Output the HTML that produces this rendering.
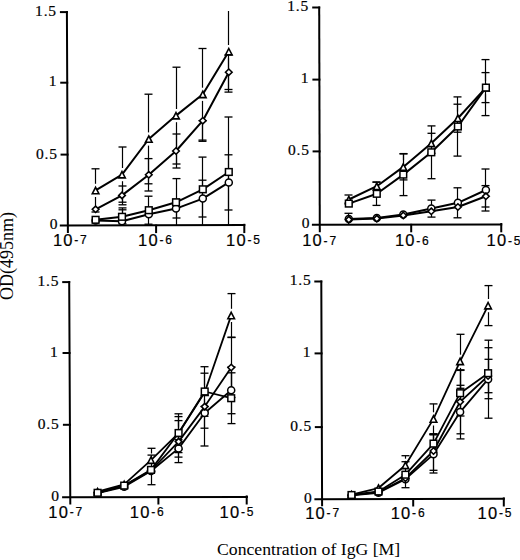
<!DOCTYPE html>
<html><head><meta charset="utf-8"><style>
html,body{margin:0;padding:0;background:#fff;}
body{width:520px;height:560px;overflow:hidden;font-family:"Liberation Sans",sans-serif;}
svg{display:block;}
</style></head><body>
<svg width="520" height="560" viewBox="0 0 520 560">
<g stroke="#000" fill="none" stroke-linecap="square"><line x1="66.90" y1="12.10" x2="67.90" y2="232.00" stroke-width="2.0"/><line x1="60.80" y1="225.60" x2="244.30" y2="225.00" stroke-width="2.0"/><line x1="60.90" y1="12.10" x2="66.90" y2="12.10" stroke-width="2.0"/><line x1="61.22" y1="82.70" x2="67.22" y2="82.70" stroke-width="2.0"/><line x1="61.55" y1="154.60" x2="67.55" y2="154.60" stroke-width="2.0"/><line x1="156.10" y1="225.60" x2="156.10" y2="232.10" stroke-width="2.0"/><line x1="244.30" y1="224.80" x2="244.30" y2="232.10" stroke-width="2.0"/></g>
<g font-family='"Liberation Serif", serif' font-size="15.5" fill="#000" stroke="#000" stroke-width="0.2"><text x="56.90" y="15.80" text-anchor="end" letter-spacing="0.8">1.5</text><text x="56.40" y="86.40" text-anchor="end" letter-spacing="0">1</text><text x="57.70" y="159.10" text-anchor="end" letter-spacing="0.8">0.5</text><text x="57.50" y="229.10" text-anchor="end" letter-spacing="0">0</text></g>
<g font-family='"Liberation Sans", sans-serif' fill="#000" stroke="#000" stroke-width="0.2"><text x="52.90" y="245.50" font-size="16.5" letter-spacing="1.2">10</text><text x="74.30" y="243.90" font-size="12" letter-spacing="1.8">-7</text><text x="138.10" y="245.50" font-size="16.5" letter-spacing="1.2">10</text><text x="159.50" y="243.90" font-size="12" letter-spacing="1.8">-6</text><text x="226.00" y="245.50" font-size="16.5" letter-spacing="1.2">10</text><text x="247.40" y="243.90" font-size="12" letter-spacing="1.8">-5</text></g>
<g stroke="#000" fill="none"><line x1="95.50" y1="168.80" x2="95.50" y2="183.80" stroke-width="1.2"/><line x1="95.50" y1="197.00" x2="95.50" y2="212.00" stroke-width="1.2"/><line x1="91.50" y1="168.80" x2="99.50" y2="168.80" stroke-width="1.32"/><line x1="91.50" y1="212.00" x2="99.50" y2="212.00" stroke-width="1.32"/><line x1="122.50" y1="147.00" x2="122.50" y2="168.00" stroke-width="1.2"/><line x1="122.50" y1="181.20" x2="122.50" y2="202.20" stroke-width="1.2"/><line x1="118.50" y1="147.00" x2="126.50" y2="147.00" stroke-width="1.32"/><line x1="118.50" y1="202.20" x2="126.50" y2="202.20" stroke-width="1.32"/><line x1="148.50" y1="94.20" x2="148.50" y2="132.40" stroke-width="1.2"/><line x1="148.50" y1="145.60" x2="148.50" y2="183.80" stroke-width="1.2"/><line x1="144.50" y1="94.20" x2="152.50" y2="94.20" stroke-width="1.32"/><line x1="144.50" y1="183.80" x2="152.50" y2="183.80" stroke-width="1.32"/><line x1="176.50" y1="67.20" x2="176.50" y2="109.00" stroke-width="1.2"/><line x1="176.50" y1="122.20" x2="176.50" y2="164.00" stroke-width="1.2"/><line x1="172.50" y1="67.20" x2="180.50" y2="67.20" stroke-width="1.32"/><line x1="172.50" y1="164.00" x2="180.50" y2="164.00" stroke-width="1.32"/><line x1="202.50" y1="48.50" x2="202.50" y2="87.70" stroke-width="1.2"/><line x1="202.50" y1="100.90" x2="202.50" y2="140.10" stroke-width="1.2"/><line x1="198.50" y1="48.50" x2="206.50" y2="48.50" stroke-width="1.32"/><line x1="198.50" y1="140.10" x2="206.50" y2="140.10" stroke-width="1.32"/><line x1="228.50" y1="11.00" x2="228.50" y2="45.00" stroke-width="1.2"/><line x1="228.50" y1="58.20" x2="228.50" y2="92.10" stroke-width="1.2"/><line x1="224.50" y1="92.10" x2="232.50" y2="92.10" stroke-width="1.32"/><line x1="122.50" y1="186.00" x2="122.50" y2="204.80" stroke-width="1.2"/><line x1="118.50" y1="186.00" x2="126.50" y2="186.00" stroke-width="1.32"/><line x1="118.50" y1="204.80" x2="126.50" y2="204.80" stroke-width="1.32"/><line x1="148.50" y1="158.60" x2="148.50" y2="191.00" stroke-width="1.2"/><line x1="144.50" y1="158.60" x2="152.50" y2="158.60" stroke-width="1.32"/><line x1="144.50" y1="191.00" x2="152.50" y2="191.00" stroke-width="1.32"/><line x1="176.50" y1="134.00" x2="176.50" y2="168.00" stroke-width="1.2"/><line x1="172.50" y1="134.00" x2="180.50" y2="134.00" stroke-width="1.32"/><line x1="172.50" y1="168.00" x2="180.50" y2="168.00" stroke-width="1.32"/><line x1="202.50" y1="120.60" x2="202.50" y2="141.30" stroke-width="1.2"/><line x1="198.50" y1="120.60" x2="206.50" y2="120.60" stroke-width="1.32"/><line x1="198.50" y1="141.30" x2="206.50" y2="141.30" stroke-width="1.32"/><line x1="228.50" y1="54.90" x2="228.50" y2="89.50" stroke-width="1.2"/><line x1="224.50" y1="54.90" x2="232.50" y2="54.90" stroke-width="1.32"/><line x1="224.50" y1="89.50" x2="232.50" y2="89.50" stroke-width="1.32"/><line x1="122.50" y1="209.80" x2="122.50" y2="223.80" stroke-width="1.2"/><line x1="118.50" y1="209.80" x2="126.50" y2="209.80" stroke-width="1.32"/><line x1="118.50" y1="223.80" x2="126.50" y2="223.80" stroke-width="1.32"/><line x1="148.50" y1="196.20" x2="148.50" y2="224.20" stroke-width="1.2"/><line x1="144.50" y1="196.20" x2="152.50" y2="196.20" stroke-width="1.32"/><line x1="144.50" y1="224.20" x2="152.50" y2="224.20" stroke-width="1.32"/><line x1="176.50" y1="178.60" x2="176.50" y2="225.40" stroke-width="1.2"/><line x1="172.50" y1="178.60" x2="180.50" y2="178.60" stroke-width="1.32"/><line x1="202.50" y1="157.10" x2="202.50" y2="225.40" stroke-width="1.2"/><line x1="198.50" y1="157.10" x2="206.50" y2="157.10" stroke-width="1.32"/><line x1="228.50" y1="117.00" x2="228.50" y2="225.40" stroke-width="1.2"/><line x1="224.50" y1="117.00" x2="232.50" y2="117.00" stroke-width="1.32"/><line x1="122.50" y1="207.90" x2="122.50" y2="225.40" stroke-width="1.2"/><line x1="118.50" y1="207.90" x2="126.50" y2="207.90" stroke-width="1.32"/><line x1="176.50" y1="199.20" x2="176.50" y2="218.00" stroke-width="1.2"/><line x1="172.50" y1="199.20" x2="180.50" y2="199.20" stroke-width="1.32"/><line x1="172.50" y1="218.00" x2="180.50" y2="218.00" stroke-width="1.32"/><line x1="202.50" y1="180.20" x2="202.50" y2="217.00" stroke-width="1.2"/><line x1="198.50" y1="180.20" x2="206.50" y2="180.20" stroke-width="1.32"/><line x1="198.50" y1="217.00" x2="206.50" y2="217.00" stroke-width="1.32"/><line x1="228.50" y1="154.80" x2="228.50" y2="210.00" stroke-width="1.2"/><line x1="224.50" y1="154.80" x2="232.50" y2="154.80" stroke-width="1.32"/><line x1="224.50" y1="210.00" x2="232.50" y2="210.00" stroke-width="1.32"/></g>
<g stroke="#000" fill="none" stroke-linejoin="round"><polyline points="95.60,190.40 122.00,174.60 148.80,139.00 176.00,115.60 202.80,94.30 228.80,51.60" stroke-width="2.0"/><polyline points="95.60,209.30 122.00,195.40 148.80,174.80 176.00,151.00 202.80,120.70 228.80,72.20" stroke-width="2.0"/><polyline points="95.60,219.80 122.00,216.80 148.80,210.20 176.00,202.30 202.80,189.30 228.80,172.00" stroke-width="2.0"/><polyline points="95.60,220.60 122.00,221.20 148.80,214.20 176.00,208.60 202.80,198.60 228.80,182.40" stroke-width="2.0"/></g>
<g stroke="#000" fill="#fff"><circle cx="95.60" cy="220.60" r="3.52" stroke-width="1.5"/><circle cx="122.00" cy="221.20" r="3.52" stroke-width="1.5"/><circle cx="148.80" cy="214.20" r="3.52" stroke-width="1.5"/><circle cx="176.00" cy="208.60" r="3.52" stroke-width="1.5"/><circle cx="202.80" cy="198.60" r="3.52" stroke-width="1.5"/><circle cx="228.80" cy="182.40" r="3.52" stroke-width="1.5"/><path d="M95.60 206.10L98.90 209.30L95.60 212.50L92.30 209.30Z" stroke-width="1.6"/><path d="M122.00 192.20L125.30 195.40L122.00 198.60L118.70 195.40Z" stroke-width="1.6"/><path d="M148.80 171.60L152.10 174.80L148.80 178.00L145.50 174.80Z" stroke-width="1.6"/><path d="M176.00 147.80L179.30 151.00L176.00 154.20L172.70 151.00Z" stroke-width="1.6"/><path d="M202.80 117.50L206.10 120.70L202.80 123.90L199.50 120.70Z" stroke-width="1.6"/><path d="M228.80 69.00L232.10 72.20L228.80 75.40L225.50 72.20Z" stroke-width="1.6"/><path d="M95.60 187.30L98.90 193.70L92.30 193.70Z" stroke-width="1.6" stroke-linejoin="miter"/><path d="M122.00 171.50L125.30 177.90L118.70 177.90Z" stroke-width="1.6" stroke-linejoin="miter"/><path d="M148.80 135.90L152.10 142.30L145.50 142.30Z" stroke-width="1.6" stroke-linejoin="miter"/><path d="M176.00 112.50L179.30 118.90L172.70 118.90Z" stroke-width="1.6" stroke-linejoin="miter"/><path d="M202.80 91.20L206.10 97.60L199.50 97.60Z" stroke-width="1.6" stroke-linejoin="miter"/><path d="M228.80 48.50L232.10 54.90L225.50 54.90Z" stroke-width="1.6" stroke-linejoin="miter"/><rect x="92.25" y="216.45" width="6.70" height="6.70" stroke-width="1.5"/><rect x="118.65" y="213.45" width="6.70" height="6.70" stroke-width="1.5"/><rect x="145.45" y="206.85" width="6.70" height="6.70" stroke-width="1.5"/><rect x="172.65" y="198.95" width="6.70" height="6.70" stroke-width="1.5"/><rect x="199.45" y="185.95" width="6.70" height="6.70" stroke-width="1.5"/><rect x="225.45" y="168.65" width="6.70" height="6.70" stroke-width="1.5"/></g>
<g stroke="#000" fill="none" stroke-linecap="square"><line x1="319.20" y1="7.50" x2="319.80" y2="231.20" stroke-width="2.0"/><line x1="312.90" y1="224.80" x2="501.25" y2="224.50" stroke-width="2.0"/><line x1="313.20" y1="7.50" x2="319.20" y2="7.50" stroke-width="2.0"/><line x1="313.39" y1="79.60" x2="319.39" y2="79.60" stroke-width="2.0"/><line x1="313.59" y1="151.40" x2="319.59" y2="151.40" stroke-width="2.0"/><line x1="411.20" y1="224.80" x2="411.20" y2="231.30" stroke-width="2.0"/><line x1="501.25" y1="224.00" x2="501.25" y2="231.30" stroke-width="2.0"/></g>
<g font-family='"Liberation Serif", serif' font-size="15.5" fill="#000" stroke="#000" stroke-width="0.2"><text x="309.00" y="11.20" text-anchor="end" letter-spacing="0.8">1.5</text><text x="308.50" y="83.30" text-anchor="end" letter-spacing="0">1</text><text x="309.80" y="155.10" text-anchor="end" letter-spacing="0.8">0.5</text><text x="309.60" y="228.40" text-anchor="end" letter-spacing="0">0</text></g>
<g font-family='"Liberation Sans", sans-serif' fill="#000" stroke="#000" stroke-width="0.2"><text x="302.20" y="246.20" font-size="16.5" letter-spacing="1.2">10</text><text x="323.60" y="244.60" font-size="12" letter-spacing="1.8">-7</text><text x="394.90" y="246.20" font-size="16.5" letter-spacing="1.2">10</text><text x="416.30" y="244.60" font-size="12" letter-spacing="1.8">-6</text><text x="486.50" y="246.20" font-size="16.5" letter-spacing="1.2">10</text><text x="507.90" y="244.60" font-size="12" letter-spacing="1.8">-5</text></g>
<g stroke="#000" fill="none"><line x1="344.50" y1="195.00" x2="352.50" y2="195.00" stroke-width="1.32"/><line x1="344.50" y1="204.00" x2="352.50" y2="204.00" stroke-width="1.32"/><line x1="372.50" y1="182.00" x2="380.50" y2="182.00" stroke-width="1.32"/><line x1="372.50" y1="190.40" x2="380.50" y2="190.40" stroke-width="1.32"/><line x1="403.50" y1="153.90" x2="403.50" y2="160.30" stroke-width="1.2"/><line x1="403.50" y1="173.50" x2="403.50" y2="179.90" stroke-width="1.2"/><line x1="399.50" y1="153.90" x2="407.50" y2="153.90" stroke-width="1.32"/><line x1="399.50" y1="179.90" x2="407.50" y2="179.90" stroke-width="1.32"/><line x1="431.50" y1="133.30" x2="431.50" y2="136.70" stroke-width="1.2"/><line x1="431.50" y1="149.90" x2="431.50" y2="153.30" stroke-width="1.2"/><line x1="427.50" y1="133.30" x2="435.50" y2="133.30" stroke-width="1.32"/><line x1="427.50" y1="153.30" x2="435.50" y2="153.30" stroke-width="1.32"/><line x1="457.50" y1="104.20" x2="457.50" y2="111.60" stroke-width="1.2"/><line x1="457.50" y1="124.80" x2="457.50" y2="132.20" stroke-width="1.2"/><line x1="453.50" y1="104.20" x2="461.50" y2="104.20" stroke-width="1.32"/><line x1="453.50" y1="132.20" x2="461.50" y2="132.20" stroke-width="1.32"/><line x1="485.50" y1="72.60" x2="485.50" y2="81.00" stroke-width="1.2"/><line x1="485.50" y1="94.20" x2="485.50" y2="102.60" stroke-width="1.2"/><line x1="481.50" y1="72.60" x2="489.50" y2="72.60" stroke-width="1.32"/><line x1="481.50" y1="102.60" x2="489.50" y2="102.60" stroke-width="1.32"/><line x1="376.50" y1="182.20" x2="376.50" y2="205.40" stroke-width="1.2"/><line x1="372.50" y1="182.20" x2="380.50" y2="182.20" stroke-width="1.32"/><line x1="372.50" y1="205.40" x2="380.50" y2="205.40" stroke-width="1.32"/><line x1="403.50" y1="153.60" x2="403.50" y2="195.60" stroke-width="1.2"/><line x1="399.50" y1="153.60" x2="407.50" y2="153.60" stroke-width="1.32"/><line x1="399.50" y1="195.60" x2="407.50" y2="195.60" stroke-width="1.32"/><line x1="431.50" y1="125.90" x2="431.50" y2="178.70" stroke-width="1.2"/><line x1="427.50" y1="125.90" x2="435.50" y2="125.90" stroke-width="1.32"/><line x1="427.50" y1="178.70" x2="435.50" y2="178.70" stroke-width="1.32"/><line x1="457.50" y1="96.90" x2="457.50" y2="156.10" stroke-width="1.2"/><line x1="453.50" y1="96.90" x2="461.50" y2="96.90" stroke-width="1.32"/><line x1="453.50" y1="156.10" x2="461.50" y2="156.10" stroke-width="1.32"/><line x1="485.50" y1="59.60" x2="485.50" y2="115.60" stroke-width="1.2"/><line x1="481.50" y1="59.60" x2="489.50" y2="59.60" stroke-width="1.32"/><line x1="481.50" y1="115.60" x2="489.50" y2="115.60" stroke-width="1.32"/><line x1="348.50" y1="213.30" x2="348.50" y2="224.60" stroke-width="1.2"/><line x1="344.50" y1="213.30" x2="352.50" y2="213.30" stroke-width="1.32"/><line x1="431.50" y1="200.10" x2="431.50" y2="217.10" stroke-width="1.2"/><line x1="427.50" y1="200.10" x2="435.50" y2="200.10" stroke-width="1.32"/><line x1="427.50" y1="217.10" x2="435.50" y2="217.10" stroke-width="1.32"/><line x1="457.50" y1="187.80" x2="457.50" y2="217.80" stroke-width="1.2"/><line x1="453.50" y1="187.80" x2="461.50" y2="187.80" stroke-width="1.32"/><line x1="453.50" y1="217.80" x2="461.50" y2="217.80" stroke-width="1.32"/><line x1="485.50" y1="169.00" x2="485.50" y2="211.00" stroke-width="1.2"/><line x1="481.50" y1="169.00" x2="489.50" y2="169.00" stroke-width="1.32"/><line x1="481.50" y1="211.00" x2="489.50" y2="211.00" stroke-width="1.32"/><line x1="485.50" y1="185.60" x2="485.50" y2="207.00" stroke-width="1.2"/><line x1="481.50" y1="185.60" x2="489.50" y2="185.60" stroke-width="1.32"/><line x1="481.50" y1="207.00" x2="489.50" y2="207.00" stroke-width="1.32"/></g>
<g stroke="#000" fill="none" stroke-linejoin="round"><polyline points="348.80,199.50 376.80,186.20 403.30,166.90 431.30,143.30 457.90,118.20 485.90,87.60" stroke-width="2.0"/><polyline points="348.80,203.60 376.80,193.80 403.30,174.60 431.30,152.30 457.90,126.50 485.90,87.60" stroke-width="2.0"/><polyline points="348.80,219.00 376.80,217.90 403.30,214.60 431.30,208.60 457.90,202.80 485.90,190.00" stroke-width="2.0"/><polyline points="348.80,219.60 376.80,218.60 403.30,215.40 431.30,211.30 457.90,207.00 485.90,196.30" stroke-width="2.0"/></g>
<g stroke="#000" fill="#fff"><circle cx="348.80" cy="219.00" r="3.52" stroke-width="1.5"/><circle cx="376.80" cy="217.90" r="3.52" stroke-width="1.5"/><circle cx="403.30" cy="214.60" r="3.52" stroke-width="1.5"/><circle cx="431.30" cy="208.60" r="3.52" stroke-width="1.5"/><circle cx="457.90" cy="202.80" r="3.52" stroke-width="1.5"/><circle cx="485.90" cy="190.00" r="3.52" stroke-width="1.5"/><path d="M348.80 216.40L352.10 219.60L348.80 222.80L345.50 219.60Z" stroke-width="1.6"/><path d="M376.80 215.40L380.10 218.60L376.80 221.80L373.50 218.60Z" stroke-width="1.6"/><path d="M403.30 212.20L406.60 215.40L403.30 218.60L400.00 215.40Z" stroke-width="1.6"/><path d="M431.30 208.10L434.60 211.30L431.30 214.50L428.00 211.30Z" stroke-width="1.6"/><path d="M457.90 203.80L461.20 207.00L457.90 210.20L454.60 207.00Z" stroke-width="1.6"/><path d="M485.90 193.10L489.20 196.30L485.90 199.50L482.60 196.30Z" stroke-width="1.6"/><path d="M348.80 196.40L352.10 202.80L345.50 202.80Z" stroke-width="1.6" stroke-linejoin="miter"/><path d="M376.80 183.10L380.10 189.50L373.50 189.50Z" stroke-width="1.6" stroke-linejoin="miter"/><path d="M403.30 163.80L406.60 170.20L400.00 170.20Z" stroke-width="1.6" stroke-linejoin="miter"/><path d="M431.30 140.20L434.60 146.60L428.00 146.60Z" stroke-width="1.6" stroke-linejoin="miter"/><path d="M457.90 115.10L461.20 121.50L454.60 121.50Z" stroke-width="1.6" stroke-linejoin="miter"/><path d="M485.90 84.50L489.20 90.90L482.60 90.90Z" stroke-width="1.6" stroke-linejoin="miter"/><rect x="345.45" y="200.25" width="6.70" height="6.70" stroke-width="1.5"/><rect x="373.45" y="190.45" width="6.70" height="6.70" stroke-width="1.5"/><rect x="399.95" y="171.25" width="6.70" height="6.70" stroke-width="1.5"/><rect x="427.95" y="148.95" width="6.70" height="6.70" stroke-width="1.5"/><rect x="454.55" y="123.15" width="6.70" height="6.70" stroke-width="1.5"/><rect x="482.55" y="84.25" width="6.70" height="6.70" stroke-width="1.5"/></g>
<g stroke="#000" fill="none" stroke-linecap="square"><line x1="69.20" y1="282.10" x2="70.30" y2="503.50" stroke-width="2.0"/><line x1="63.10" y1="497.20" x2="246.90" y2="496.90" stroke-width="2.0"/><line x1="63.20" y1="282.10" x2="69.20" y2="282.10" stroke-width="2.0"/><line x1="63.55" y1="353.00" x2="69.55" y2="353.00" stroke-width="2.0"/><line x1="63.91" y1="424.80" x2="69.91" y2="424.80" stroke-width="2.0"/><line x1="158.40" y1="497.20" x2="158.40" y2="503.50" stroke-width="2.0"/><line x1="246.70" y1="496.40" x2="246.70" y2="503.50" stroke-width="2.0"/></g>
<g font-family='"Liberation Serif", serif' font-size="15.5" fill="#000" stroke="#000" stroke-width="0.2"><text x="59.20" y="285.80" text-anchor="end" letter-spacing="0.8">1.5</text><text x="57.80" y="356.70" text-anchor="end" letter-spacing="0">1</text><text x="59.50" y="428.50" text-anchor="end" letter-spacing="0.8">0.5</text><text x="59.00" y="500.90" text-anchor="end" letter-spacing="0">0</text></g>
<g font-family='"Liberation Sans", sans-serif' fill="#000" stroke="#000" stroke-width="0.2"><text x="48.30" y="517.90" font-size="16.5" letter-spacing="1.2">10</text><text x="69.70" y="516.30" font-size="12" letter-spacing="1.8">-7</text><text x="129.80" y="517.90" font-size="16.5" letter-spacing="1.2">10</text><text x="151.20" y="516.30" font-size="12" letter-spacing="1.8">-6</text><text x="219.50" y="517.90" font-size="16.5" letter-spacing="1.2">10</text><text x="240.90" y="516.30" font-size="12" letter-spacing="1.8">-5</text></g>
<g stroke="#000" fill="none"><line x1="178.50" y1="439.70" x2="178.50" y2="457.10" stroke-width="1.2"/><line x1="174.50" y1="439.70" x2="182.50" y2="439.70" stroke-width="1.32"/><line x1="174.50" y1="457.10" x2="182.50" y2="457.10" stroke-width="1.32"/><line x1="204.50" y1="412.90" x2="204.50" y2="446.00" stroke-width="1.2"/><line x1="200.50" y1="412.90" x2="208.50" y2="412.90" stroke-width="1.32"/><line x1="200.50" y1="446.00" x2="208.50" y2="446.00" stroke-width="1.32"/><line x1="231.50" y1="366.90" x2="231.50" y2="413.70" stroke-width="1.2"/><line x1="227.50" y1="366.90" x2="235.50" y2="366.90" stroke-width="1.32"/><line x1="227.50" y1="413.70" x2="235.50" y2="413.70" stroke-width="1.32"/><line x1="178.50" y1="420.60" x2="178.50" y2="462.60" stroke-width="1.2"/><line x1="174.50" y1="420.60" x2="182.50" y2="420.60" stroke-width="1.32"/><line x1="174.50" y1="462.60" x2="182.50" y2="462.60" stroke-width="1.32"/><line x1="204.50" y1="406.50" x2="204.50" y2="428.20" stroke-width="1.2"/><line x1="200.50" y1="406.50" x2="208.50" y2="406.50" stroke-width="1.32"/><line x1="200.50" y1="428.20" x2="208.50" y2="428.20" stroke-width="1.32"/><line x1="231.50" y1="337.50" x2="231.50" y2="397.50" stroke-width="1.2"/><line x1="227.50" y1="337.50" x2="235.50" y2="337.50" stroke-width="1.32"/><line x1="227.50" y1="397.50" x2="235.50" y2="397.50" stroke-width="1.32"/><line x1="151.50" y1="455.10" x2="151.50" y2="484.70" stroke-width="1.2"/><line x1="147.50" y1="455.10" x2="155.50" y2="455.10" stroke-width="1.32"/><line x1="147.50" y1="484.70" x2="155.50" y2="484.70" stroke-width="1.32"/><line x1="178.50" y1="416.60" x2="178.50" y2="449.40" stroke-width="1.2"/><line x1="174.50" y1="416.60" x2="182.50" y2="416.60" stroke-width="1.32"/><line x1="174.50" y1="449.40" x2="182.50" y2="449.40" stroke-width="1.32"/><line x1="204.50" y1="366.70" x2="204.50" y2="416.30" stroke-width="1.2"/><line x1="200.50" y1="366.70" x2="208.50" y2="366.70" stroke-width="1.32"/><line x1="200.50" y1="416.30" x2="208.50" y2="416.30" stroke-width="1.32"/><line x1="231.50" y1="372.80" x2="231.50" y2="423.60" stroke-width="1.2"/><line x1="227.50" y1="372.80" x2="235.50" y2="372.80" stroke-width="1.32"/><line x1="227.50" y1="423.60" x2="235.50" y2="423.60" stroke-width="1.32"/><line x1="151.50" y1="448.30" x2="151.50" y2="453.50" stroke-width="1.2"/><line x1="151.50" y1="466.70" x2="151.50" y2="471.90" stroke-width="1.2"/><line x1="147.50" y1="448.30" x2="155.50" y2="448.30" stroke-width="1.32"/><line x1="147.50" y1="471.90" x2="155.50" y2="471.90" stroke-width="1.32"/><line x1="178.50" y1="413.80" x2="178.50" y2="426.60" stroke-width="1.2"/><line x1="178.50" y1="439.80" x2="178.50" y2="452.60" stroke-width="1.2"/><line x1="174.50" y1="413.80" x2="182.50" y2="413.80" stroke-width="1.32"/><line x1="174.50" y1="452.60" x2="182.50" y2="452.60" stroke-width="1.32"/><line x1="204.50" y1="373.20" x2="204.50" y2="385.60" stroke-width="1.2"/><line x1="204.50" y1="398.80" x2="204.50" y2="411.20" stroke-width="1.2"/><line x1="200.50" y1="373.20" x2="208.50" y2="373.20" stroke-width="1.32"/><line x1="200.50" y1="411.20" x2="208.50" y2="411.20" stroke-width="1.32"/><line x1="231.50" y1="293.60" x2="231.50" y2="308.80" stroke-width="1.2"/><line x1="231.50" y1="322.00" x2="231.50" y2="337.20" stroke-width="1.2"/><line x1="227.50" y1="293.60" x2="235.50" y2="293.60" stroke-width="1.32"/><line x1="227.50" y1="337.20" x2="235.50" y2="337.20" stroke-width="1.32"/></g>
<g stroke="#000" fill="none" stroke-linejoin="round"><polyline points="97.60,493.00 124.20,486.80 151.00,471.00 178.60,448.40 204.70,413.00 231.20,390.30" stroke-width="1.8"/><polyline points="97.60,492.80 124.20,485.80 151.00,470.50 178.60,441.60 204.70,406.60 231.20,367.50" stroke-width="1.8"/><polyline points="97.60,492.80 124.20,485.60 151.00,469.90 178.60,433.00 204.70,391.50 231.20,398.20" stroke-width="1.8"/><polyline points="97.60,491.60 124.20,484.40 151.00,460.10 178.60,433.20 204.70,392.20 231.20,315.40" stroke-width="1.8"/></g>
<g stroke="#000" fill="#fff"><circle cx="97.60" cy="493.00" r="3.52" stroke-width="1.5"/><circle cx="124.20" cy="486.80" r="3.52" stroke-width="1.5"/><circle cx="151.00" cy="471.00" r="3.52" stroke-width="1.5"/><circle cx="178.60" cy="448.40" r="3.52" stroke-width="1.5"/><circle cx="204.70" cy="413.00" r="3.52" stroke-width="1.5"/><circle cx="231.20" cy="390.30" r="3.52" stroke-width="1.5"/><path d="M97.60 489.60L100.90 492.80L97.60 496.00L94.30 492.80Z" stroke-width="1.6"/><path d="M124.20 482.60L127.50 485.80L124.20 489.00L120.90 485.80Z" stroke-width="1.6"/><path d="M151.00 467.30L154.30 470.50L151.00 473.70L147.70 470.50Z" stroke-width="1.6"/><path d="M178.60 438.40L181.90 441.60L178.60 444.80L175.30 441.60Z" stroke-width="1.6"/><path d="M204.70 403.40L208.00 406.60L204.70 409.80L201.40 406.60Z" stroke-width="1.6"/><path d="M231.20 364.30L234.50 367.50L231.20 370.70L227.90 367.50Z" stroke-width="1.6"/><path d="M97.60 488.50L100.90 494.90L94.30 494.90Z" stroke-width="1.6" stroke-linejoin="miter"/><path d="M124.20 481.30L127.50 487.70L120.90 487.70Z" stroke-width="1.6" stroke-linejoin="miter"/><path d="M151.00 457.00L154.30 463.40L147.70 463.40Z" stroke-width="1.6" stroke-linejoin="miter"/><path d="M178.60 430.10L181.90 436.50L175.30 436.50Z" stroke-width="1.6" stroke-linejoin="miter"/><path d="M204.70 389.10L208.00 395.50L201.40 395.50Z" stroke-width="1.6" stroke-linejoin="miter"/><path d="M231.20 312.30L234.50 318.70L227.90 318.70Z" stroke-width="1.6" stroke-linejoin="miter"/><rect x="94.25" y="489.45" width="6.70" height="6.70" stroke-width="1.5"/><rect x="120.85" y="482.25" width="6.70" height="6.70" stroke-width="1.5"/><rect x="147.65" y="466.55" width="6.70" height="6.70" stroke-width="1.5"/><rect x="175.25" y="429.65" width="6.70" height="6.70" stroke-width="1.5"/><rect x="201.35" y="388.15" width="6.70" height="6.70" stroke-width="1.5"/><rect x="227.85" y="394.85" width="6.70" height="6.70" stroke-width="1.5"/></g>
<g stroke="#000" fill="none" stroke-linecap="square"><line x1="321.30" y1="281.50" x2="322.10" y2="505.20" stroke-width="2.0"/><line x1="315.40" y1="499.20" x2="503.80" y2="498.75" stroke-width="2.0"/><line x1="315.30" y1="281.50" x2="321.30" y2="281.50" stroke-width="2.0"/><line x1="315.56" y1="353.40" x2="321.56" y2="353.40" stroke-width="2.0"/><line x1="315.82" y1="427.10" x2="321.82" y2="427.10" stroke-width="2.0"/><line x1="413.20" y1="499.20" x2="413.20" y2="505.50" stroke-width="2.0"/><line x1="503.80" y1="498.40" x2="503.80" y2="505.50" stroke-width="2.0"/></g>
<g font-family='"Liberation Serif", serif' font-size="15.5" fill="#000" stroke="#000" stroke-width="0.2"><text x="311.50" y="285.20" text-anchor="end" letter-spacing="0.8">1.5</text><text x="310.50" y="357.10" text-anchor="end" letter-spacing="0">1</text><text x="312.00" y="430.80" text-anchor="end" letter-spacing="0.8">0.5</text><text x="311.80" y="502.70" text-anchor="end" letter-spacing="0">0</text></g>
<g font-family='"Liberation Sans", sans-serif' fill="#000" stroke="#000" stroke-width="0.2"><text x="305.20" y="518.80" font-size="16.5" letter-spacing="1.2">10</text><text x="326.60" y="517.20" font-size="12" letter-spacing="1.8">-7</text><text x="390.70" y="518.80" font-size="16.5" letter-spacing="1.2">10</text><text x="412.10" y="517.20" font-size="12" letter-spacing="1.8">-6</text><text x="477.60" y="518.80" font-size="16.5" letter-spacing="1.2">10</text><text x="499.00" y="517.20" font-size="12" letter-spacing="1.8">-5</text></g>
<g stroke="#000" fill="none"><line x1="433.50" y1="434.70" x2="433.50" y2="470.30" stroke-width="1.2"/><line x1="429.50" y1="434.70" x2="437.50" y2="434.70" stroke-width="1.32"/><line x1="429.50" y1="470.30" x2="437.50" y2="470.30" stroke-width="1.32"/><line x1="460.50" y1="385.30" x2="460.50" y2="438.90" stroke-width="1.2"/><line x1="456.50" y1="385.30" x2="464.50" y2="385.30" stroke-width="1.32"/><line x1="456.50" y1="438.90" x2="464.50" y2="438.90" stroke-width="1.32"/><line x1="488.50" y1="340.20" x2="488.50" y2="418.20" stroke-width="1.2"/><line x1="484.50" y1="340.20" x2="492.50" y2="340.20" stroke-width="1.32"/><line x1="484.50" y1="418.20" x2="492.50" y2="418.20" stroke-width="1.32"/><line x1="433.50" y1="433.80" x2="433.50" y2="473.00" stroke-width="1.2"/><line x1="429.50" y1="433.80" x2="437.50" y2="433.80" stroke-width="1.32"/><line x1="429.50" y1="473.00" x2="437.50" y2="473.00" stroke-width="1.32"/><line x1="460.50" y1="369.80" x2="460.50" y2="433.80" stroke-width="1.2"/><line x1="456.50" y1="369.80" x2="464.50" y2="369.80" stroke-width="1.32"/><line x1="456.50" y1="433.80" x2="464.50" y2="433.80" stroke-width="1.32"/><line x1="488.50" y1="359.30" x2="488.50" y2="392.70" stroke-width="1.2"/><line x1="484.50" y1="359.30" x2="492.50" y2="359.30" stroke-width="1.32"/><line x1="484.50" y1="392.70" x2="492.50" y2="392.70" stroke-width="1.32"/><line x1="405.50" y1="461.70" x2="405.50" y2="487.70" stroke-width="1.2"/><line x1="401.50" y1="461.70" x2="409.50" y2="461.70" stroke-width="1.32"/><line x1="401.50" y1="487.70" x2="409.50" y2="487.70" stroke-width="1.32"/><line x1="433.50" y1="434.60" x2="433.50" y2="452.60" stroke-width="1.2"/><line x1="429.50" y1="434.60" x2="437.50" y2="434.60" stroke-width="1.32"/><line x1="429.50" y1="452.60" x2="437.50" y2="452.60" stroke-width="1.32"/><line x1="460.50" y1="370.40" x2="460.50" y2="416.00" stroke-width="1.2"/><line x1="456.50" y1="370.40" x2="464.50" y2="370.40" stroke-width="1.32"/><line x1="456.50" y1="416.00" x2="464.50" y2="416.00" stroke-width="1.32"/><line x1="488.50" y1="347.70" x2="488.50" y2="398.70" stroke-width="1.2"/><line x1="484.50" y1="347.70" x2="492.50" y2="347.70" stroke-width="1.32"/><line x1="484.50" y1="398.70" x2="492.50" y2="398.70" stroke-width="1.32"/><line x1="405.50" y1="455.70" x2="405.50" y2="458.70" stroke-width="1.2"/><line x1="405.50" y1="471.90" x2="405.50" y2="474.90" stroke-width="1.2"/><line x1="401.50" y1="455.70" x2="409.50" y2="455.70" stroke-width="1.32"/><line x1="401.50" y1="474.90" x2="409.50" y2="474.90" stroke-width="1.32"/><line x1="433.50" y1="403.90" x2="433.50" y2="412.30" stroke-width="1.2"/><line x1="433.50" y1="425.50" x2="433.50" y2="433.90" stroke-width="1.2"/><line x1="429.50" y1="403.90" x2="437.50" y2="403.90" stroke-width="1.32"/><line x1="429.50" y1="433.90" x2="437.50" y2="433.90" stroke-width="1.32"/><line x1="460.50" y1="334.30" x2="460.50" y2="354.70" stroke-width="1.2"/><line x1="460.50" y1="367.90" x2="460.50" y2="388.30" stroke-width="1.2"/><line x1="456.50" y1="334.30" x2="464.50" y2="334.30" stroke-width="1.32"/><line x1="456.50" y1="388.30" x2="464.50" y2="388.30" stroke-width="1.32"/><line x1="488.50" y1="285.60" x2="488.50" y2="299.00" stroke-width="1.2"/><line x1="488.50" y1="312.20" x2="488.50" y2="325.60" stroke-width="1.2"/><line x1="484.50" y1="285.60" x2="492.50" y2="285.60" stroke-width="1.32"/><line x1="484.50" y1="325.60" x2="492.50" y2="325.60" stroke-width="1.32"/></g>
<g stroke="#000" fill="none" stroke-linejoin="round"><polyline points="351.50,495.40 378.50,492.80 405.40,479.20 433.50,454.30 460.10,412.10 488.10,379.20" stroke-width="1.8"/><polyline points="351.50,495.20 378.50,492.20 405.40,478.20 433.50,451.00 460.10,401.80 488.10,376.00" stroke-width="1.8"/><polyline points="351.50,495.00 378.50,491.50 405.40,474.70 433.50,443.60 460.10,393.20 488.10,373.20" stroke-width="1.8"/><polyline points="351.50,494.50 378.50,488.00 405.40,465.30 433.50,418.90 460.10,361.30 488.10,305.60" stroke-width="1.8"/></g>
<g stroke="#000" fill="#fff"><circle cx="351.50" cy="495.40" r="3.52" stroke-width="1.5"/><circle cx="378.50" cy="492.80" r="3.52" stroke-width="1.5"/><circle cx="405.40" cy="479.20" r="3.52" stroke-width="1.5"/><circle cx="433.50" cy="454.30" r="3.52" stroke-width="1.5"/><circle cx="460.10" cy="412.10" r="3.52" stroke-width="1.5"/><circle cx="488.10" cy="379.20" r="3.52" stroke-width="1.5"/><path d="M351.50 492.00L354.80 495.20L351.50 498.40L348.20 495.20Z" stroke-width="1.6"/><path d="M378.50 489.00L381.80 492.20L378.50 495.40L375.20 492.20Z" stroke-width="1.6"/><path d="M405.40 475.00L408.70 478.20L405.40 481.40L402.10 478.20Z" stroke-width="1.6"/><path d="M433.50 447.80L436.80 451.00L433.50 454.20L430.20 451.00Z" stroke-width="1.6"/><path d="M460.10 398.60L463.40 401.80L460.10 405.00L456.80 401.80Z" stroke-width="1.6"/><path d="M488.10 372.80L491.40 376.00L488.10 379.20L484.80 376.00Z" stroke-width="1.6"/><path d="M351.50 491.40L354.80 497.80L348.20 497.80Z" stroke-width="1.6" stroke-linejoin="miter"/><path d="M378.50 484.90L381.80 491.30L375.20 491.30Z" stroke-width="1.6" stroke-linejoin="miter"/><path d="M405.40 462.20L408.70 468.60L402.10 468.60Z" stroke-width="1.6" stroke-linejoin="miter"/><path d="M433.50 415.80L436.80 422.20L430.20 422.20Z" stroke-width="1.6" stroke-linejoin="miter"/><path d="M460.10 358.20L463.40 364.60L456.80 364.60Z" stroke-width="1.6" stroke-linejoin="miter"/><path d="M488.10 302.50L491.40 308.90L484.80 308.90Z" stroke-width="1.6" stroke-linejoin="miter"/><rect x="348.15" y="491.65" width="6.70" height="6.70" stroke-width="1.5"/><rect x="375.15" y="488.15" width="6.70" height="6.70" stroke-width="1.5"/><rect x="402.05" y="471.35" width="6.70" height="6.70" stroke-width="1.5"/><rect x="430.15" y="440.25" width="6.70" height="6.70" stroke-width="1.5"/><rect x="456.75" y="389.85" width="6.70" height="6.70" stroke-width="1.5"/><rect x="484.75" y="369.85" width="6.70" height="6.70" stroke-width="1.5"/></g>
<text transform="translate(12.5,300.0) rotate(-90)" font-family='"Liberation Serif", serif' font-size="18" fill="#000">OD(495nm)</text>
<text x="217" y="555.2" font-family='"Liberation Serif", serif' font-size="17.7" fill="#000">Concentration of IgG [M]</text>
</svg>
</body></html>
